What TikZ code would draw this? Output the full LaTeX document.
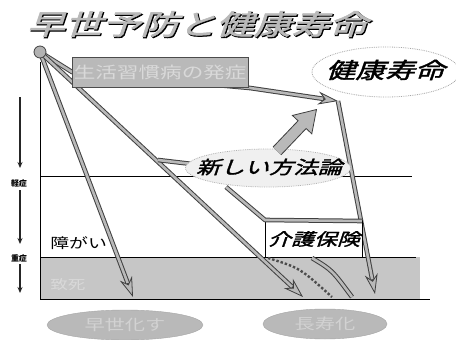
\documentclass[tikz,border=0pt]{standalone}
\usepackage{fontspec}
\usetikzlibrary{arrows.meta,shapes.geometric}
\newfontfamily\jp{Noto Sans CJK JP}
\newfontfamily\jpi[FakeSlant=0.25,FakeBold=1.5]{Noto Sans CJK JP}
\newfontfamily\jpt[FakeSlant=0.25,FakeBold=3]{Noto Sans CJK JP}
\tikzset{
  gline/.style={draw=black!75, line width=4.6pt, line join=round,
     postaction={draw=gray!55, line width=2.6pt}},
  garrow/.style={draw=black!75, line width=4.6pt, line join=round,
     -{Stealth[length=20pt,width=13pt,line width=0.8pt,fill=gray!55]},
     postaction={draw=gray!55, line width=2.6pt, -, shorten >=15pt}},
  thinarr/.style={draw=black!85, line width=1.4pt, -{Stealth[length=6pt,width=5pt]}},
  ax/.style={draw=black, line width=1pt},
  jtext/.style={inner sep=0pt, xscale=1.35},
}
\begin{document}
\begin{tikzpicture}[x=1pt,y=-1pt]
\useasboundingbox (0,0) rectangle (456,340);
\fill[white] (0,0) rectangle (456,340);
% band
\fill[gray!45] (40,257) rectangle (420,299);
\draw[ax] (40,257) -- (416,257);
\draw[ax] (40,299) -- (430,299);
\draw[ax] (40,176) -- (412,176);
\draw[ax] (40,62) -- (40,299);
% left arrows
\draw[thinarr] (20,97) -- (20,168);
\draw[thinarr] (20,190) -- (20,244);
\draw[thinarr,line width=2pt] (20,264) -- (20,293);
\node[font=\jp\bfseries\fontsize{8}{8}\selectfont, inner sep=0pt] (kei) at (19,183) {軽症};
\node[font=\jp\bfseries\fontsize{8}{8}\selectfont, inner sep=0pt] (ju) at (19,258) {重症};
% labels in plot
\node[font=\jp\fontsize{14}{14}\selectfont, jtext, anchor=west] (shogai) at (50,243) {障がい};
\node[font=\jp\fontsize{13}{13}\selectfont, jtext, anchor=west, text=gray!30] (chishi) at (50,285) {致死};
% origin
\coordinate (o) at (40,52);
\coordinate (b2) at (158,160);
% arrows
\draw[gline] (o) -- (72,72) -- (250,88);
\draw[garrow] (250,88) -- (338,101);
\draw[garrow] (338,101) -- (375,294);
\draw[garrow] (o) -- (133,297);
\draw[garrow] (o) -- (303,297);
\draw[gline] (b2) -- (192,164);
% grey box
\node[draw=black!70, fill=gray!55, minimum width=176pt, minimum height=30pt, anchor=north west, inner sep=0pt] (box) at (72,57) {};
\node[font=\jp\fontsize{16}{16}\selectfont, jtext, text=gray!30] (boxt) at (box.center) {生活習慣病の発症};
% kaigo box and path
\draw[black, line width=0.8pt, fill=white] (265,220) rectangle (362,257);
\draw[gline] (226,187) -- (265,220) -- (362,221);
\node[font=\jpi\fontsize{17}{17}\selectfont, jtext] (kaigo) at (314,239) {介護保険};
% curves in band
\draw[black!70, line width=2.4pt, dotted] (268,258) .. controls (300,268) .. (332,297);
\draw[gline] (312,258) .. controls (332,270) .. (352,297);
% new method blob
\node[ellipse, fill=gray!12, draw=gray!60, densely dotted, thick, minimum width=165pt, minimum height=38pt] (blob) at (268,168) {};
\node[font=\jpi\fontsize{18}{18}\selectfont, jtext] (nm) at (269,167) {新しい方法論};
% big arrow
\draw[draw=black!75, line width=12pt, -{Triangle[length=22pt,width=28pt,line width=0.8pt,fill=gray!55]},
      postaction={draw=gray!55, line width=10pt, -, shorten >=18pt}] (277,151) -- (317,109);
% kenko ellipse
\node[ellipse, draw=gray!70, densely dotted, thick, fill=white, minimum width=148pt, minimum height=50pt] (ke) at (386,72) {};
\node[font=\jpi\fontsize{22}{22}\selectfont, jtext] (ket) at (385,70) {健康寿命};
% title
\node[font=\jpt\fontsize{28}{28}\selectfont, jtext, text=black] at (198,25) {早世予防と健康寿命};
\node[font=\jpi\fontsize{28}{28}\selectfont, jtext, text=gray!55] (title) at (197,24) {早世予防と健康寿命};
% origin blob
\fill[gray!60, draw=black!75, line width=0.8pt] (o) circle (6);
% bottom ellipses
\node[ellipse, fill=gray!55, draw=gray!70, minimum width=156pt, minimum height=30pt] (e1) at (125,325) {};
\node[font=\jp\fontsize{15}{15}\selectfont, jtext, text=gray!35] at (e1.center) {早世化す};
\node[ellipse, fill=gray!55, draw=gray!70, minimum width=124pt, minimum height=30pt] (e2) at (325,324) {};
\node[font=\jp\fontsize{15}{15}\selectfont, jtext, text=gray!35] at (e2.center) {長寿化};
\end{tikzpicture}
\end{document}
